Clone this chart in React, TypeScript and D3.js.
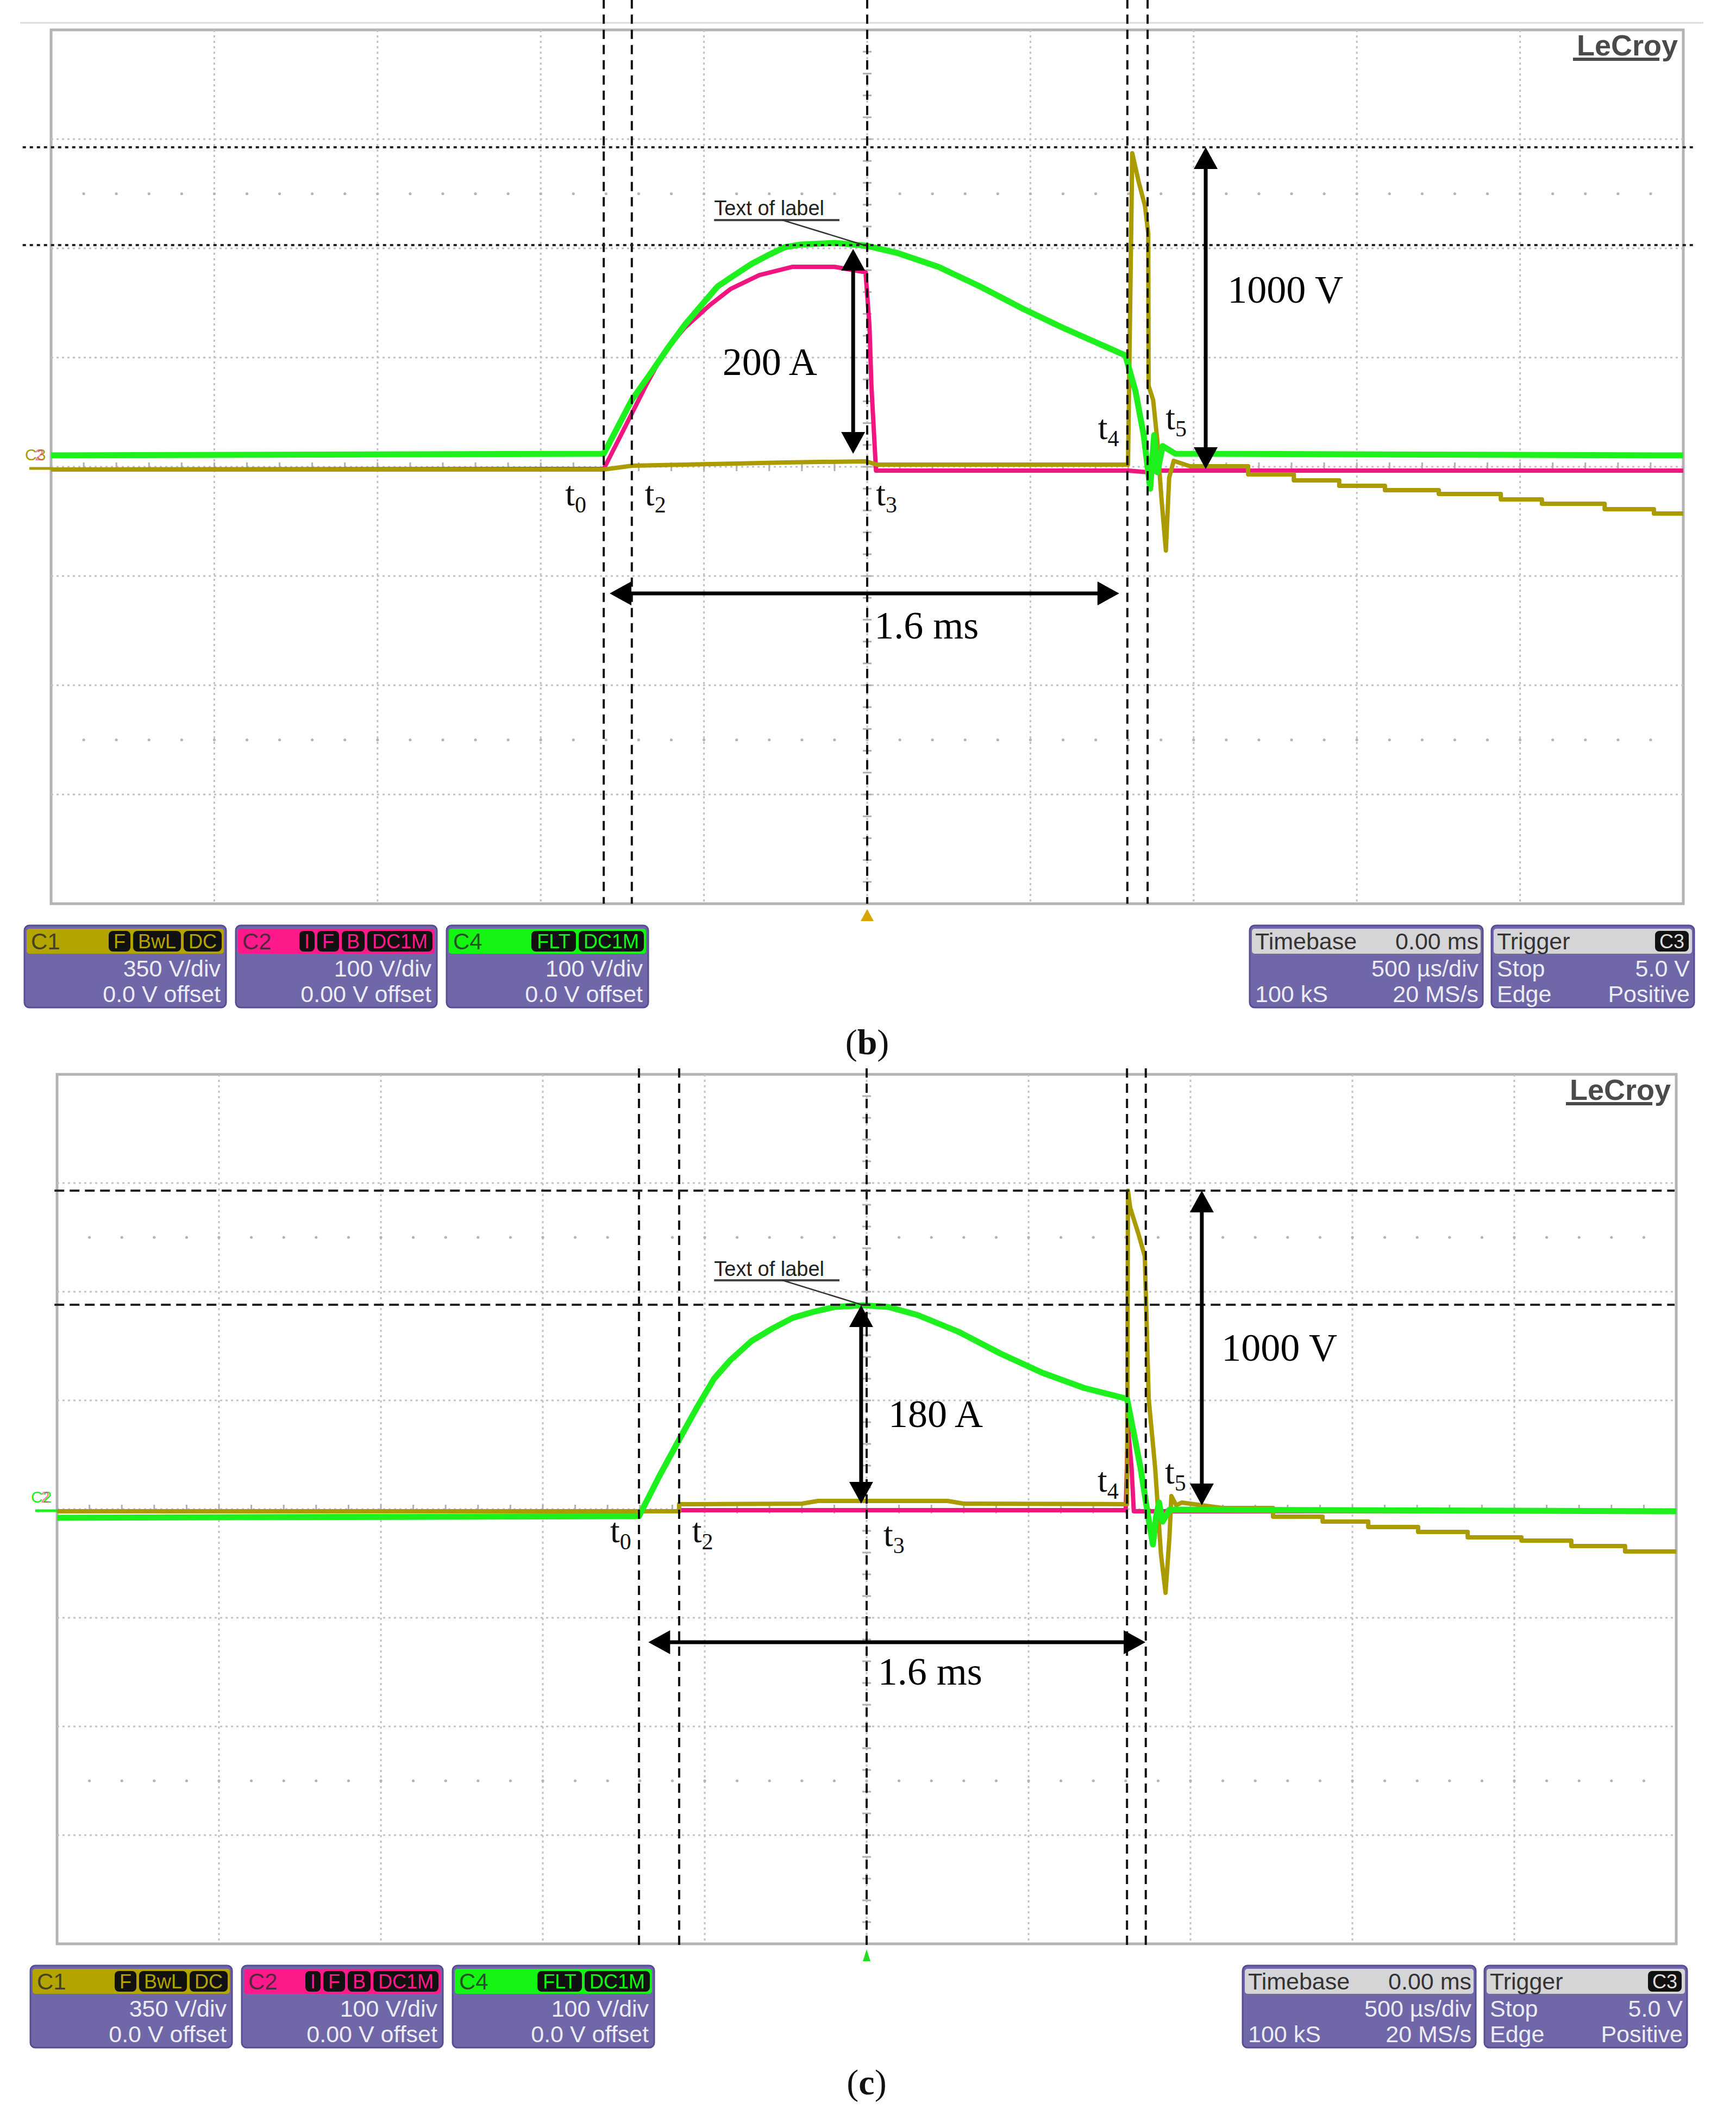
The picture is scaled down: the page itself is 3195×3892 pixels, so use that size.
import React from "react";
import * as d3 from "d3";

type Pt = [number, number]; // [time in ms (500 µs/div, trigger at centre), level in divisions]

const PAGE_W = 3195;
const PAGE_H = 3892;

const timeDomain: Pt = [-2.5, 2.5];
const levelDomain: Pt = [-4, 4];

// ---------- panel (b) ----------
const bMagenta: Pt[] = [
  [-2.5, -0.025], [-0.807, -0.02], [-0.721, 0.488], [-0.674, 0.766], [-0.623, 1.045], [-0.559, 1.274],
  [-0.483, 1.478], [-0.419, 1.627], [-0.33, 1.756], [-0.228, 1.831], [-0.1, 1.831], [-0.005, 1.781],
  [0.007, 1.289], [0.013, 0.741], [0.027, -0.035], [0.8, -0.035], [0.86, -0.05], [0.9, -0.035], [2.5, -0.035],
];
const bOlive: Pt[] = [
  [-2.5, -0.025], [-0.807, -0.025], [-0.72, 0.01], [-0.4, 0.03], [-0.25, 0.04], [-0.005, 0.05], [0.03, 0.02],
  [0.799, 0.02], [0.812, 2.871], [0.831, 2.617], [0.851, 2.388], [0.861, 2.134], [0.862, 0.741], [0.876, 0.612],
  [0.889, 0.234], [0.901, -0.274], [0.915, -0.766], [0.925, -0.1], [0.939, 0.055], [0.989, 0.005],
  [1.167, 0.005], [1.167, -0.07], [1.307, -0.07], [1.307, -0.124], [1.446, -0.124], [1.446, -0.174],
  [1.586, -0.174], [1.586, -0.214], [1.751, -0.214], [1.751, -0.249], [1.941, -0.249], [1.941, -0.299],
  [2.067, -0.299], [2.067, -0.338], [2.259, -0.338], [2.259, -0.388], [2.41, -0.388], [2.41, -0.428], [2.5, -0.428],
];
const bGreen: Pt[] = [
  [-2.5, 0.104], [-0.807, 0.119], [-0.721, 0.612], [-0.661, 0.866], [-0.609, 1.095], [-0.559, 1.299],
  [-0.508, 1.478], [-0.458, 1.652], [-0.406, 1.756], [-0.355, 1.856], [-0.305, 1.935], [-0.253, 2.01],
  [-0.203, 2.035], [-0.1, 2.05], [-0.005, 2.025], [0.09, 1.96], [0.218, 1.831], [0.345, 1.652],
  [0.473, 1.453], [0.599, 1.274], [0.791, 1.02], [0.822, 0.69], [0.847, 0.29], [0.867, -0.2],
  [0.879, 0.29], [0.889, -0.05], [0.905, 0.19], [0.944, 0.12], [2.5, 0.104],
];
const bCursorTimes = [-0.807, -0.721, 0, 0.797, 0.859];
const bCursorLevels = [2.925, 2.03];
const bTimeLabels: [string, number, number][] = [
  ["0", -0.925, -0.353], ["2", -0.681, -0.353], ["3", 0.027, -0.353], ["4", 0.707, 0.254], ["5", 0.914, 0.343],
];

// ---------- panel (c) ----------
const cMagenta: Pt[] = [
  [-2.5, -0.02], [-0.579, -0.02], [-0.579, -0.01], [0.8, -0.01], [0.807, 0.76], [0.818, 0.385],
  [0.825, -0.02], [2.5, -0.02],
];
const cOlive: Pt[] = [
  [-2.5, -0.02], [-0.579, -0.02], [-0.579, 0.045], [-0.2, 0.05], [-0.15, 0.075], [0.25, 0.075], [0.3, 0.05],
  [0.804, 0.045], [0.807, 2.93], [0.814, 2.77], [0.839, 2.535], [0.859, 2.325], [0.871, 1.015], [0.891, 0.375],
  [0.909, -0.42], [0.923, -0.77], [0.935, -0.26], [0.941, 0.12], [0.956, 0.035], [0.973, 0.06], [1.099, 0.01],
  [1.255, 0.01], [1.255, -0.07], [1.408, -0.07], [1.408, -0.115], [1.549, -0.115], [1.549, -0.165],
  [1.703, -0.165], [1.703, -0.21], [1.856, -0.21], [1.856, -0.26], [2.022, -0.26], [2.022, -0.29],
  [2.176, -0.29], [2.176, -0.34], [2.342, -0.34], [2.342, -0.39], [2.5, -0.39],
];
const cGreen: Pt[] = [
  [-2.5, -0.08], [-0.703, -0.065], [-0.639, 0.31], [-0.576, 0.655], [-0.523, 0.94], [-0.471, 1.2],
  [-0.421, 1.37], [-0.356, 1.545], [-0.292, 1.66], [-0.228, 1.76], [-0.164, 1.815], [-0.099, 1.86],
  [-0.01, 1.875], [0.067, 1.86], [0.158, 1.785], [0.285, 1.63], [0.414, 1.43], [0.542, 1.255],
  [0.671, 1.115], [0.804, 1.015], [0.846, 0.375], [0.871, -0.1], [0.884, -0.325], [0.894, -0.065],
  [0.903, 0.06], [0.914, -0.115], [0.935, -0.005], [2.5, -0.02],
];
const cCursorTimes = [-0.703, -0.579, 0, 0.804, 0.862];
const cCursorLevels = [2.93, 1.88];
const cTimeLabels: [string, number, number][] = [
  ["0", -0.792, -0.305], ["2", -0.539, -0.305], ["3", 0.052, -0.34], ["4", 0.713, 0.16], ["5", 0.921, 0.235],
];

// ---------- readouts ----------
const channelNames = ["C1", "C2", "C4"];
const channelBadges = [["F", "BwL", "DC"], ["I", "F", "B", "DC1M"], ["FLT", "DC1M"]];
const channelScales = ["350 V/div", "100 V/div", "100 V/div"];
const channelOffsets = ["0.0 V offset", "0.00 V offset", "0.0 V offset"];
const timebaseText = ["Timebase", "0.00 ms", "500 µs/div", "100 kS", "20 MS/s"];
const triggerText = ["Trigger", "C3", "Stop", "5.0 V", "Edge", "Positive"];

const OLIVE = "#a99b00";
const MAGENTA = "#f0157f";
const GREEN = "#1ef01e";
const headColors = ["#b3a400", "#ff1a8c", "#14f514"];
const SANS = "'Liberation Sans', Arial, sans-serif";
const SERIF = "'Liberation Serif', 'Times New Roman', serif";

const CW: Record<string, number> = { F: 0.611, B: 0.667, w: 0.722, L: 0.556, D: 0.722, C: 0.722, I: 0.278, "1": 0.556, M: 0.833, T: 0.611, "3": 0.556 };
const badgeW = (s: string, fs: number) => s.split("").reduce((a, c) => a + (CW[c] ?? 0.6), 0) * fs + 18;

interface PanelCfg {
  left: number; top: number; width: number; height: number;
  magenta: Pt[]; olive: Pt[]; green: Pt[];
  cursorTimes: number[]; cursorSpan: Pt;
  cursorLevels: number[]; levelSpan: Pt; levelDash: string;
  timeLabels: [string, number, number][];
  current: { t: number; from: number; to: number; text: string; tx: number; ty: number };
  volt: { t: number; from: number; to: number; tx: number; ty: number };
  dur: { level: number; from: number; to: number; tx: number; ty: number };
  callout: { tx: number; ty: number; under: number; underEnd: number; leadFrom: number; target: Pt };
  markerColor: string; markerDigit: string;
  triColor: string; triW: number;
  caption: string;
}

function DoubleArrow({ x1, y1, x2, y2 }: { x1: number; y1: number; x2: number; y2: number }) {
  const len = Math.hypot(x2 - x1, y2 - y1);
  const ux = (x2 - x1) / len, uy = (y2 - y1) / len;
  const hl = 40, hw = 22;
  const head = (tx: number, ty: number, dx: number, dy: number) => {
    const bx = tx - dx * hl, by = ty - dy * hl;
    return `${tx},${ty} ${bx - dy * hw},${by + dx * hw} ${bx + dy * hw},${by - dx * hw}`;
  };
  return (
    <g>
      <line x1={x1 + ux * hl * 0.8} y1={y1 + uy * hl * 0.8} x2={x2 - ux * hl * 0.8} y2={y2 - uy * hl * 0.8} stroke="#000" strokeWidth={7} />
      <polygon points={head(x2, y2, ux, uy)} fill="#000" />
      <polygon points={head(x1, y1, -ux, -uy)} fill="#000" />
    </g>
  );
}

function ChannelBox({ x, y, w, i }: { x: number; y: number; w: number; i: number }) {
  const fs = 36;
  let bx = x + w - 8;
  const badges = channelBadges[i].slice().reverse().map((b) => {
    const bw = badgeW(b, fs);
    bx -= bw;
    const el = (
      <g key={b + bx}>
        <rect x={bx} y={y + 10} width={bw} height={38} rx={8} fill="#111" />
        <text x={bx + bw / 2} y={y + 42} textAnchor="middle" fontFamily={SANS} fontSize={fs} fill={headColors[i]}>{b}</text>
      </g>
    );
    bx -= 5;
    return el;
  });
  return (
    <g>
      <rect x={x} y={y} width={w} height={151} rx={9} fill="#6f67a8" stroke="#564e92" strokeWidth={3} />
      <rect x={x + 4} y={y + 6} width={w - 8} height={46} rx={5} fill={headColors[i]} />
      <text x={x + 12} y={y + 44} fontFamily={SANS} fontSize={42} fill="#2a2a2a" opacity={0.8}>{channelNames[i]}</text>
      {badges}
      <text x={x + w - 10} y={y + 94} textAnchor="end" fontFamily={SANS} fontSize={43} fill="#ececf6">{channelScales[i]}</text>
      <text x={x + w - 10} y={y + 141} textAnchor="end" fontFamily={SANS} fontSize={43} fill="#ececf6">{channelOffsets[i]}</text>
    </g>
  );
}

function TimebaseBox({ x, y, w }: { x: number; y: number; w: number }) {
  return (
    <g fontFamily={SANS} fontSize={43}>
      <rect x={x} y={y} width={w} height={151} rx={9} fill="#6f67a8" stroke="#564e92" strokeWidth={3} />
      <rect x={x + 4} y={y + 6} width={w - 8} height={46} rx={5} fill="#d5d5d8" />
      <text x={x + 10} y={y + 44} fill="#333">{timebaseText[0]}</text>
      <text x={x + w - 8} y={y + 44} textAnchor="end" fill="#333">{timebaseText[1]}</text>
      <text x={x + w - 8} y={y + 94} textAnchor="end" fill="#ececf6">{timebaseText[2]}</text>
      <text x={x + 10} y={y + 141} fill="#ececf6">{timebaseText[3]}</text>
      <text x={x + w - 8} y={y + 141} textAnchor="end" fill="#ececf6">{timebaseText[4]}</text>
    </g>
  );
}

function TriggerBox({ x, y, w }: { x: number; y: number; w: number }) {
  return (
    <g fontFamily={SANS} fontSize={43}>
      <rect x={x} y={y} width={w} height={151} rx={9} fill="#6f67a8" stroke="#564e92" strokeWidth={3} />
      <rect x={x + 4} y={y + 6} width={w - 8} height={46} rx={5} fill="#d5d5d8" />
      <text x={x + 10} y={y + 44} fill="#333">{triggerText[0]}</text>
      <rect x={x + w - 72} y={y + 10} width={62} height={38} rx={8} fill="#111" />
      <text x={x + w - 41} y={y + 42} textAnchor="middle" fontSize={36} fill="#ddd">{triggerText[1]}</text>
      <text x={x + 10} y={y + 94} fill="#ececf6">{triggerText[2]}</text>
      <text x={x + w - 8} y={y + 94} textAnchor="end" fill="#ececf6">{triggerText[3]}</text>
      <text x={x + 10} y={y + 141} fill="#ececf6">{triggerText[4]}</text>
      <text x={x + w - 8} y={y + 141} textAnchor="end" fill="#ececf6">{triggerText[5]}</text>
    </g>
  );
}

function Panel({ cfg }: { cfg: PanelCfg }) {
  const { left, top, width, height } = cfg;
  const x = d3.scaleLinear().domain(timeDomain).range([left, left + width]);
  const y = d3.scaleLinear().domain(levelDomain).range([top + height, top]);
  const line = d3.line<Pt>().x((d) => x(d[0])).y((d) => y(d[1]));
  const majorT = d3.range(-2.5, 2.5001, 0.5);
  const majorL = d3.range(-4, 4.001, 1);
  const minorT = d3.range(-2.5, 2.5001, 0.1);
  const minorL = d3.range(-4, 4.001, 0.2);
  const bottom = top + height;
  const right = left + width;
  const boxY = bottom + 40;
  return (
    <g>
      <rect x={left} y={top} width={width} height={height} fill="#fff" stroke="#b3b3b3" strokeWidth={5} />
      {/* graticule */}
      {majorT.slice(1, -1).map((t) => (
        <line key={"gx" + t} x1={x(t)} x2={x(t)} y1={top} y2={bottom} stroke="#c2c2c2" strokeWidth={3} strokeDasharray="4 6" />
      ))}
      {majorL.slice(1, -1).map((l) => (
        <line key={"gy" + l} x1={left} x2={right} y1={y(l)} y2={y(l)} stroke="#c2c2c2" strokeWidth={3} strokeDasharray="4 6" />
      ))}
      {minorT.map((t) => (
        <line key={"mt" + t} x1={x(t)} x2={x(t)} y1={y(0) - 8} y2={y(0) + 8} stroke="#b0b0b0" strokeWidth={3} />
      ))}
      {minorL.map((l) => (
        <line key={"ml" + l} x1={x(0) - 8} x2={x(0) + 8} y1={y(l)} y2={y(l)} stroke="#b0b0b0" strokeWidth={3} />
      ))}
      {[2.5, -2.5].map((l) =>
        minorT.slice(1, -1).map((t) => <circle key={"d" + l + t} cx={x(t)} cy={y(l)} r={2.6} fill="#b5b5b5" />)
      )}
      {/* channel ground markers */}
      <line x1={left - 40} x2={left} y1={y(0) + 3} y2={y(0) + 3} stroke={cfg.markerColor} strokeWidth={5} />
      <text x={left - 48} y={y(0) - 12} fontFamily={SANS} fontSize={30} fill={cfg.markerColor}>
        C<tspan>{cfg.markerDigit}</tspan>
      </text>
      <text x={left - 30} y={y(0) - 12} fontFamily={SANS} fontSize={30} fill={MAGENTA} opacity={0.55}>2</text>
      {/* traces */}
      <path d={line(cfg.magenta) ?? ""} fill="none" stroke={MAGENTA} strokeWidth={8} strokeLinejoin="round" />
      <path d={line(cfg.olive) ?? ""} fill="none" stroke={OLIVE} strokeWidth={8} strokeLinejoin="round" />
      <path d={line(cfg.green) ?? ""} fill="none" stroke={GREEN} strokeWidth={11} strokeLinejoin="round" />
      {/* cursors */}
      {cfg.cursorTimes.map((t) => (
        <line key={"ct" + t} x1={x(t)} x2={x(t)} y1={y(cfg.cursorSpan[0])} y2={y(cfg.cursorSpan[1])} stroke="#111" strokeWidth={4} strokeDasharray="17 11" />
      ))}
      {cfg.cursorLevels.map((l) => (
        <line key={"cl" + l} x1={x(cfg.levelSpan[0])} x2={x(cfg.levelSpan[1])} y1={y(l)} y2={y(l)} stroke="#222" strokeWidth={4} strokeDasharray={cfg.levelDash} />
      ))}
      {/* annotations */}
      <DoubleArrow x1={x(cfg.current.t)} y1={y(cfg.current.from)} x2={x(cfg.current.t)} y2={y(cfg.current.to)} />
      <DoubleArrow x1={x(cfg.volt.t)} y1={y(cfg.volt.from)} x2={x(cfg.volt.t)} y2={y(cfg.volt.to)} />
      <DoubleArrow x1={x(cfg.dur.from)} y1={y(cfg.dur.level)} x2={x(cfg.dur.to)} y2={y(cfg.dur.level)} />
      <text x={x(cfg.current.tx)} y={y(cfg.current.ty)} fontFamily={SERIF} fontSize={72}>{cfg.current.text}</text>
      <text x={x(cfg.volt.tx)} y={y(cfg.volt.ty)} fontFamily={SERIF} fontSize={72}>1000 V</text>
      <text x={x(cfg.dur.tx)} y={y(cfg.dur.ty)} fontFamily={SERIF} fontSize={72}>1.6 ms</text>
      <text x={x(cfg.callout.tx)} y={y(cfg.callout.ty)} fontFamily={SANS} fontSize={38} fill="#222">Text of label</text>
      <line x1={x(cfg.callout.tx)} x2={x(cfg.callout.underEnd)} y1={y(cfg.callout.under)} y2={y(cfg.callout.under)} stroke="#444" strokeWidth={4} />
      <line x1={x(cfg.callout.leadFrom)} y1={y(cfg.callout.under)} x2={x(cfg.callout.target[0])} y2={y(cfg.callout.target[1])} stroke="#333" strokeWidth={2.5} />
      {cfg.timeLabels.map(([s, t, l]) => (
        <text key={"tl" + s} x={x(t)} y={y(l)} fontFamily={SERIF} fontSize={64} fill="#111">
          t<tspan fontSize={42} dy={13}>{s}</tspan>
        </text>
      ))}
      {/* logo */}
      <text x={right - 10} y={top + 47} textAnchor="end" fontFamily={SANS} fontWeight="bold" fontSize={54} fill="#4a4a4a">LeCroy</text>
      <line x1={right - 203} x2={right - 44} y1={top + 54} y2={top + 54} stroke="#4a4a4a" strokeWidth={6} />
      {/* trigger position marker */}
      <polygon points={`${x(0)},${bottom + 10} ${x(0) - cfg.triW},${bottom + 32} ${x(0) + cfg.triW},${bottom + 32}`} fill={cfg.triColor} />
      {/* readouts */}
      <ChannelBox x={left - 49} y={boxY} w={371} i={0} />
      <ChannelBox x={left + 340} y={boxY} w={370} i={1} />
      <ChannelBox x={left + 728} y={boxY} w={371} i={2} />
      <TimebaseBox x={right - 798} y={boxY} w={429} />
      <TriggerBox x={right - 353} y={boxY} w={373} />
      <text x={x(0)} y={boxY + 237} textAnchor="middle" fontFamily={SERIF} fontSize={66} fill="#111">
        (<tspan fontWeight="bold">{cfg.caption}</tspan>)
      </text>
    </g>
  );
}

const panelB: PanelCfg = {
  left: 94, top: 55, width: 3004, height: 1608,
  magenta: bMagenta, olive: bOlive, green: bGreen,
  cursorTimes: bCursorTimes, cursorSpan: [4.28, -4],
  cursorLevels: bCursorLevels, levelSpan: [-2.587, 2.537], levelDash: "6 7",
  timeLabels: bTimeLabels,
  current: { t: -0.043, from: 1.995, to: 0.12, text: "200 A", tx: -0.443, ty: 0.841 },
  volt: { t: 1.037, from: 2.925, to: -0.02, tx: 1.104, ty: 1.502 },
  dur: { level: -1.159, from: -0.789, to: 0.772, tx: 0.022, ty: -1.572 },
  callout: { tx: -0.469, ty: 2.303, under: 2.259, underEnd: -0.085, leadFrom: -0.26, target: [-0.005, 2.025] },
  markerColor: OLIVE, markerDigit: "3",
  triColor: "#d9a400", triW: 12,
  caption: "b",
};

const panelC: PanelCfg = {
  left: 105, top: 1977, width: 2980, height: 1600,
  magenta: cMagenta, olive: cOlive, green: cGreen,
  cursorTimes: cCursorTimes, cursorSpan: [4.055, -4.03],
  cursorLevels: cCursorLevels, levelSpan: [-2.508, 2.495], levelDash: "18 10",
  timeLabels: cTimeLabels,
  current: { t: -0.017, from: 1.875, to: 0.05, text: "180 A", tx: 0.067, ty: 0.755 },
  volt: { t: 1.035, from: 2.93, to: 0.035, tx: 1.096, ty: 1.365 },
  dur: { level: -1.225, from: -0.674, to: 0.861, tx: 0.035, ty: -1.615 },
  callout: { tx: -0.471, ty: 2.145, under: 2.105, underEnd: -0.084, leadFrom: -0.26, target: [-0.01, 1.875] },
  markerColor: GREEN, markerDigit: "2",
  triColor: "#22dd22", triW: 7,
  caption: "c",
};

export default function App() {
  return (
    <svg
      width={PAGE_W}
      height={PAGE_H}
      viewBox={`0 0 ${PAGE_W} ${PAGE_H}`}
      style={{ position: "absolute", left: 0, top: 0, background: "#fff" }}
    >
      <rect x={0} y={0} width={PAGE_W} height={PAGE_H} fill="#fff" />
      <line x1={37} x2={3135} y1={42} y2={42} stroke="#dcdcdc" strokeWidth={3} />
      <Panel cfg={panelB} />
      <Panel cfg={panelC} />
    </svg>
  );
}
